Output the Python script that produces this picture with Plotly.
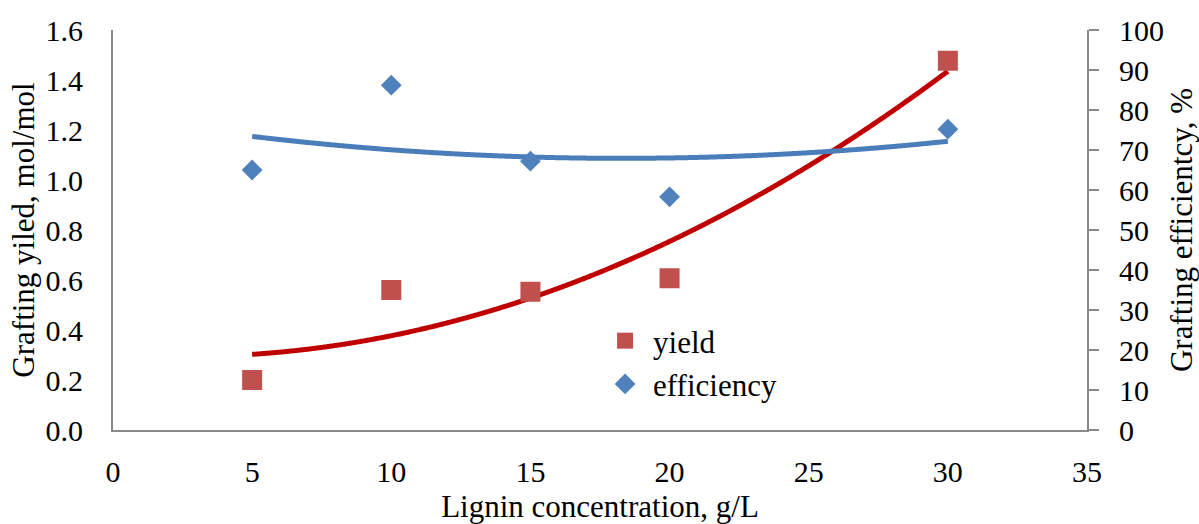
import numpy as np
import plotly.graph_objects as go

# Lignin concentration (g/L) and measured grafting results
lignin = [5, 10, 15, 20, 30]
grafting_yield = [0.20, 0.56, 0.553, 0.607, 1.477]   # mol/mol
grafting_eff = [65.0, 86.2, 67.2, 58.3, 75.2]        # %

x_ticks = [0, 5, 10, 15, 20, 25, 30, 35]
y_ticks = [0.0, 0.2, 0.4, 0.6, 0.8, 1.0, 1.2, 1.4, 1.6]
y2_ticks = [0, 10, 20, 30, 40, 50, 60, 70, 80, 90, 100]

FONT = "Liberation Serif"
AXIS = "#898989"

# Second-order polynomial trend lines fitted to the measurements
xs = np.linspace(min(lignin), max(lignin), 300)
fit_yield = np.polyval(np.polyfit(lignin, grafting_yield, 2), xs)
fit_eff = np.polyval(np.polyfit(lignin, grafting_eff, 2), xs)

fig = go.Figure()

fig.add_trace(go.Scatter(
    x=xs, y=fit_yield, mode="lines", yaxis="y",
    line=dict(color="#C00000", width=5, shape="spline"),
    showlegend=False, hoverinfo="skip"))
fig.add_trace(go.Scatter(
    x=xs, y=fit_eff, mode="lines", yaxis="y2",
    line=dict(color="#4A7EBB", width=5, shape="spline"),
    showlegend=False, hoverinfo="skip"))

fig.add_trace(go.Scatter(
    x=lignin, y=grafting_yield, mode="markers", name="yield", yaxis="y",
    marker=dict(symbol="square", size=20, color="#C0504D")))
fig.add_trace(go.Scatter(
    x=lignin, y=grafting_eff, mode="markers", name="efficiency", yaxis="y2",
    marker=dict(symbol="diamond", size=16, color="#4F81BD")))

fig.update_layout(
    width=1199, height=524,
    margin=dict(l=113, r=112, t=30, b=94),
    paper_bgcolor="white", plot_bgcolor="white",
    font=dict(family=FONT, size=30, color="black"),
    xaxis=dict(
        range=[0, 35], tickvals=x_ticks, ticktext=[str(v) for v in x_ticks],
        showgrid=False, zeroline=False, showline=True, linecolor=AXIS, linewidth=2,
        ticks="outside", ticklen=14, tickcolor="rgba(0,0,0,0)",
        automargin=False,
        title=dict(text="Lignin concentration, g/L", font=dict(size=31), standoff=18),
    ),
    yaxis=dict(
        range=[0, 1.6], tickvals=y_ticks, ticktext=[f"{v:.1f}" for v in y_ticks],
        showgrid=False, zeroline=False, showline=True, linecolor=AXIS, linewidth=2,
        ticks="outside", ticklen=22, tickcolor="rgba(0,0,0,0)",
        automargin=False,
        title=dict(text="Grafting yiled, mol/mol", font=dict(size=31), standoff=2),
    ),
    yaxis2=dict(
        range=[0, 100], tickvals=y2_ticks, ticktext=[str(v) for v in y2_ticks],
        overlaying="y", side="right",
        showgrid=False, zeroline=False, showline=True, linecolor=AXIS, linewidth=2,
        ticks="outside", ticklen=10, tickwidth=2, tickcolor=AXIS,
        ticklabelstandoff=14, automargin=False,
        title=dict(text="Grafting efficientcy, %", font=dict(size=31), standoff=8),
    ),
    legend=dict(
        x=0.497, y=0.29, xanchor="left", yanchor="top",
        bgcolor="rgba(0,0,0,0)", font=dict(size=31),
        itemwidth=46, tracegroupgap=0,
    ),
)

fig.write_html("out.html")
